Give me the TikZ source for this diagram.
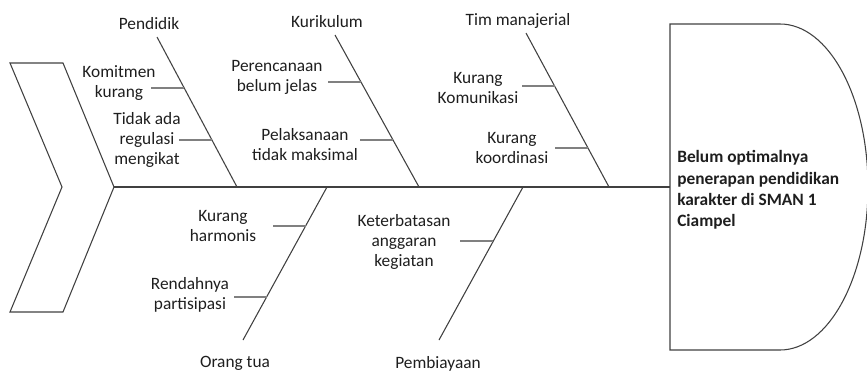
\documentclass[tikz,border=0pt]{standalone}
\usepackage{fontspec}
\setmainfont{Carlito}
\usetikzlibrary{calc}
\definecolor{bonegray}{RGB}{64,64,64}
\definecolor{twiggray}{RGB}{128,128,128}
\definecolor{inkgray}{RGB}{30,30,30}

\tikzset{
  bone/.style={draw=bonegray, line width=0.8pt},
  twig/.style={draw=twiggray, line width=1pt},
  cause/.style={align=center, inner sep=0pt, text=inkgray, font=\fontsize{13}{15}\selectfont},
  effect/.style={align=left, inner sep=0pt, text=inkgray, font=\bfseries\fontsize{13}{16}\selectfont},
}

\begin{document}
\begin{tikzpicture}[x=0.75pt, y=-0.75pt]
      \useasboundingbox (0,0) rectangle (867,372);
      % tail and head
      \draw[bone] (10,63) -- (63,63) -- (114,187) -- (63,312) -- (10,312) -- (62,187) -- cycle;
      \draw[bone] (670,24) -- (780,24) arc[start angle=-90, end angle=90, x radius=88, y radius=163] -- (670,350) -- cycle;
      \coordinate (tail) at (114,187);
      \coordinate (mouth) at (670,187);
      \node[effect, anchor=west] (problem) at (677,190) {Belum optimalnya\\penerapan pendidikan\\karakter di SMAN 1\\Ciampel};
      \draw[bone] (tail) -- (mouth);

      % upper bones
      \coordinate (pend-top) at (157,37);  \coordinate (pend-foot) at (237,187);
      \coordinate (kuri-top) at (335,35);  \coordinate (kuri-foot) at (419,187);
      \coordinate (tim-top)  at (526,33);  \coordinate (tim-foot)  at (609,187);
      \draw[bone] (pend-top) -- (pend-foot);
      \draw[bone] (kuri-top) -- (kuri-foot);
      \draw[bone] (tim-top)  -- (tim-foot);
      \node[cause] (pend) at (149,24) {Pendidik};
      \node[cause] (kuri) at (327,22) {Kurikulum};
      \node[cause] (tim)  at (518,21) {Tim manajerial};

      \node[cause] (komit) at (119,83)  {Komitmen\\kurang};
      \node[cause] (regul) at (147,140) {Tidak ada\\regulasi\\mengikat};
      \node[cause] (peren) at (277,77)  {Perencanaan\\belum jelas};
      \node[cause] (pelak) at (305,145) {Pelaksanaan\\tidak maksimal};
      \node[cause] (komun) at (478,88)  {Kurang\\Komunikasi};
      \node[cause] (koord) at (512,148) {Kurang\\koordinasi};
      \draw[twig] ($(pend-top)!.340!(pend-foot)$) -- ++(-33,0);
      \draw[twig] ($(pend-top)!.687!(pend-foot)$) -- ++(-33,0);
      \draw[twig] ($(kuri-top)!.309!(kuri-foot)$) -- ++(-33,0);
      \draw[twig] ($(kuri-top)!.691!(kuri-foot)$) -- ++(-33,0);
      \draw[twig] ($(tim-top)!.344!(tim-foot)$)   -- ++(-33,0);
      \draw[twig] ($(tim-top)!.747!(tim-foot)$)   -- ++(-33,0);

      % lower bones
      \coordinate (ortu-top) at (327,187); \coordinate (ortu-foot) at (243,340);
      \coordinate (biaya-top) at (523,187); \coordinate (biaya-foot) at (439,340);
      \draw[bone] (ortu-top)  -- (ortu-foot);
      \draw[bone] (biaya-top) -- (biaya-foot);
      \node[cause] (ortu)  at (235,363) {Orang tua};
      \node[cause] (biaya) at (438,364) {Pembiayaan};

      \node[cause] (harmo)  at (223,226) {Kurang\\harmonis};
      \node[cause] (rendah) at (190,295) {Rendahnya\\partisipasi};
      \node[cause] (anggar) at (404,242) {Keterbatasan\\anggaran\\kegiatan};
      \draw[twig] ($(ortu-top)!.255!(ortu-foot)$)   -- ++(-33,0);
      \draw[twig] ($(ortu-top)!.719!(ortu-foot)$)   -- ++(-33,0);
      \draw[twig] ($(biaya-top)!.353!(biaya-foot)$) -- ++(-33,0);
\end{tikzpicture}
\end{document}
